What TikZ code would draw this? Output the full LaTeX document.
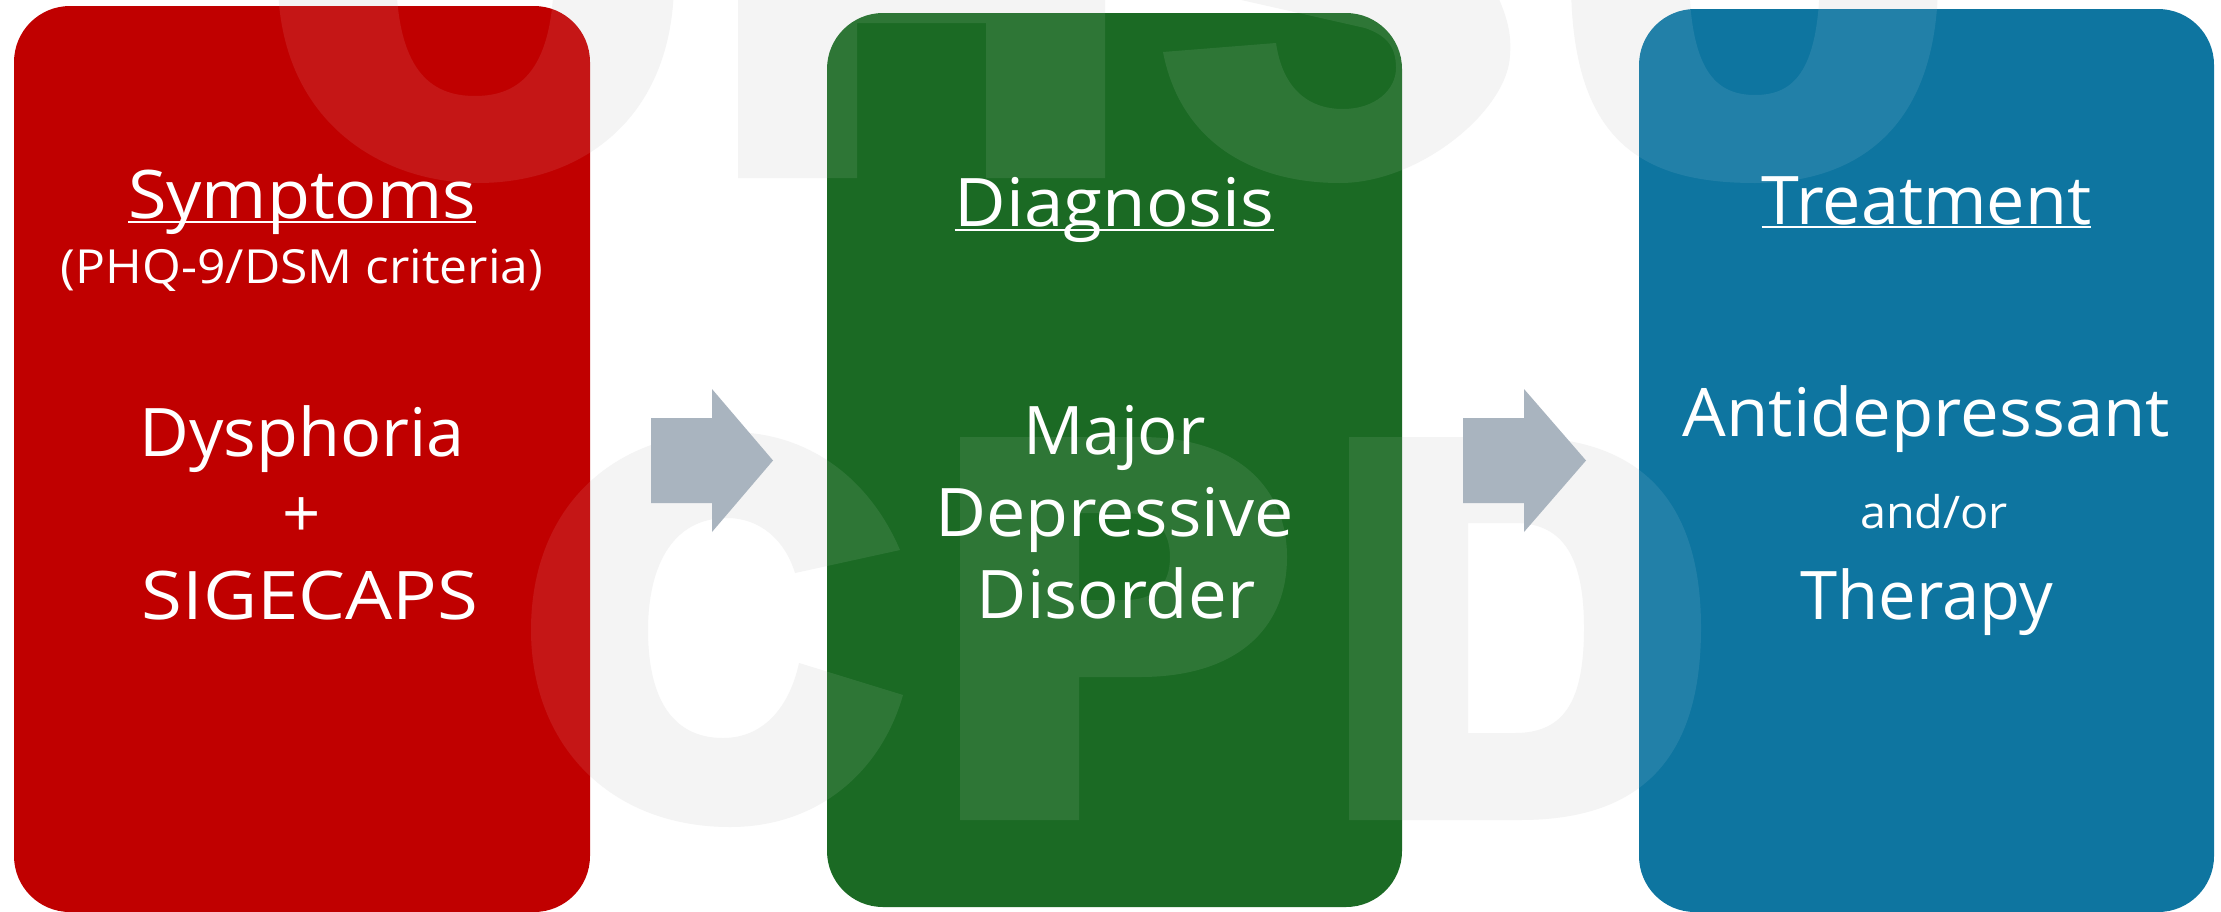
\documentclass[tikz,border=0pt]{standalone}
\usepackage{fontspec}
\setmainfont{Open Sans}
\newcommand{\hstretch}[2]{\scalebox{#1}[1]{#2}}
\definecolor{boxred}{RGB}{192,0,0}
\definecolor{boxgreen}{RGB}{27,106,36}
\definecolor{boxblue}{RGB}{14,117,160}
\definecolor{wmgray}{RGB}{244,244,244}
\definecolor{arrowgray}{RGB}{169,180,191}
\tikzset{
  wmletters/.style={insert path={
    % U (top left)
    (278,-20) .. controls (278,120) and (380,183) .. (478,183) .. controls (580,183) and (674,120) .. (674,-20) -- cycle
    (396,-30) .. controls (396,70) and (430,96) .. (475,96) .. controls (520,96) and (554,70) .. (554,-30) -- cycle
    % H (top)
    (738,-20) -- (1105,-20) -- (1105,178) -- (986,178) -- (986,23) -- (857,23) -- (857,178) -- (738,178) -- cycle
    % S (top)
    (1153,-20) -- (1490,-20) .. controls (1505,10) and (1512,30) .. (1510,55) .. controls (1508,110) and (1420,183) .. (1340,183)
      .. controls (1250,183) and (1180,140) .. (1163,52) -- (1276,43)
      .. controls (1282,85) and (1305,109) .. (1343,109) .. controls (1375,109) and (1396,90) .. (1396,68)
      .. controls (1396,45) and (1385,35) .. (1365,28) -- cycle
    % U (top right)
    (1571,-20) .. controls (1571,140) and (1640,183) .. (1755,183) .. controls (1855,183) and (1938,130) .. (1938,-20) -- cycle
    (1689,-30) .. controls (1689,70) and (1715,95) .. (1755,95) .. controls (1795,95) and (1820,70) .. (1820,-30) -- cycle
    % C
    (730,432) .. controls (810,432) and (870,480) .. (900,550) -- (795,573) .. controls (785,540) and (760,518) .. (727,518)
      .. controls (670,518) and (648,570) .. (648,630) .. controls (648,695) and (670,738) .. (723,738)
      .. controls (765,738) and (790,705) .. (799,663) -- (903,695) .. controls (880,775) and (815,827) .. (730,827)
      .. controls (610,827) and (531,745) .. (531,630) .. controls (531,510) and (610,432) .. (730,432) -- cycle
    % P
    (960,437) -- (1140,437) .. controls (1240,437) and (1287,490) .. (1287,557) .. controls (1287,630) and (1235,677) .. (1140,677)
      -- (1079,677) -- (1079,820) -- (960,820) -- cycle
    (1079,513) -- (1125,513) .. controls (1155,513) and (1170,530) .. (1170,557) .. controls (1170,585) and (1155,600) .. (1125,600) -- (1079,600) -- cycle
    % D
    (1349,437) -- (1520,437) .. controls (1640,437) and (1701,500) .. (1701,628) .. controls (1701,760) and (1640,820) .. (1520,820) -- (1349,820) -- cycle
    (1468,523) -- (1515,523) .. controls (1565,523) and (1584,560) .. (1584,628) .. controls (1584,700) and (1565,733) .. (1515,733) -- (1468,733) -- cycle
  }},
  panel/.style={rounded corners=56pt},
  blockarrow/.style={fill=arrowgray},
  big/.style={text=white, inner sep=0pt, anchor=base, font=\fontsize{67}{80}\selectfont},
  mid/.style={text=white, inner sep=0pt, anchor=base, font=\fontsize{47}{56}\selectfont},
  small/.style={text=white, inner sep=0pt, anchor=base, font=\fontsize{45}{54}\selectfont},
  ul/.style={draw=white, line width=2.6pt}
}
\begin{document}
\begin{tikzpicture}[x=1pt,y=-1pt]
\useasboundingbox (0,0) rectangle (2221,911);
\clip (0,0) rectangle (2221,911);
\fill[white] (0,0) rectangle (2221,911);
% watermark letters (background)
\fill[wmgray, even odd rule, wmletters];
% panels
\fill[boxred, panel] (14,6) rectangle (590,912);
\fill[boxgreen, panel] (827,13) rectangle (1402,907);
\fill[boxblue, panel] (1639,9) rectangle (2214,912);
% watermark letters (veil over panels)
\fill[white, opacity=0.085, even odd rule, wmletters];
% block arrows
\fill[blockarrow] (651,418) -- (712,418) -- (712,389) -- (773,460.5) -- (712,532) -- (712,503) -- (651,503) -- cycle;
\fill[blockarrow] (1463,418) -- (1524,418) -- (1524,389) -- (1586,460.5) -- (1524,532) -- (1524,503) -- (1463,503) -- cycle;
% red panel text
\node[big] (sym) at (302,218) {\hstretch{1.047}{Symptoms}};
\draw[ul] ([yshift=-4pt]sym.base west) -- ([yshift=-4pt]sym.base east);
\node[mid] (phq) at (302,283) {\hstretch{1.06}{(PHQ-9/DSM criteria)}};
\node[big] (dys) at (302,456) {\hstretch{1.02}{Dysphoria}};
\node[big, anchor=center] (plus) at (302,518) {+};
\node[big] (sig) at (310,619) {\hstretch{1.11}{SIGECAPS}};
% green panel text
\node[big] (diag) at (1114.5,226) {\hstretch{1.057}{Diagnosis}};
\draw[ul] ([yshift=-4pt]diag.base west) -- ([yshift=-4pt]diag.base east);
\node[big] (maj) at (1114.5,454) {Major};
\node[big] (dep) at (1114.5,536) {\hstretch{1.046}{Depressive}};
\node[big] (dis) at (1116,618) {\hstretch{1.03}{Disorder}};
% blue panel text
\node[big] (treat) at (1926.5,224) {\hstretch{1.02}{Treatment}};
\draw[ul] ([yshift=-3pt]treat.base west) -- ([yshift=-3pt]treat.base east);
\node[big] (anti) at (1926.5,436) {\hstretch{1.03}{Antidepressant}};
\node[small] (andor) at (1934,528) {\hstretch{1.04}{and/or}};
\node[big] (ther) at (1926.5,619) {Therapy};
\end{tikzpicture}
\end{document}
